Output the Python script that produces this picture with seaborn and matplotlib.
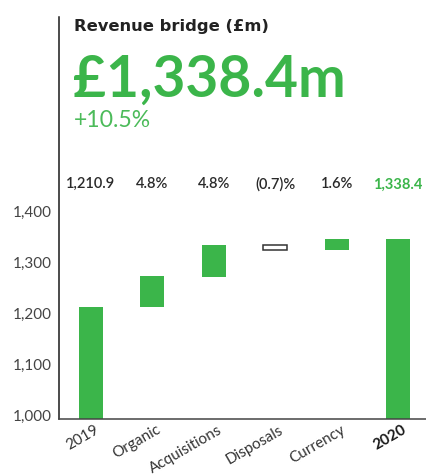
import matplotlib
matplotlib.use("Agg")
import matplotlib.pyplot as plt
import matplotlib.transforms as mtransforms
import seaborn as sns
import pandas as pd

# ---- data ----
categories = ["2019", "Organic", "Acquisitions", "Disposals", "Currency", "2020"]
bar_bottoms = [0, 1212, 1272, 1325, 1325, 0]
bar_tops = [1212, 1273, 1334, 1335, 1346, 1346]
value_labels = ["1,210.9", "4.8%", "4.8%", "(0.7)%", "1.6%", "1,338.4"]
y_ticks = [1000, 1100, 1200, 1300, 1400]
headline = "£1,338.4m"
growth = "+10.5%"
title = "Revenue bridge (£m)"

GREEN = "#3BB54A"
DARK = "#2a2a2a"

sns.set_theme(style="white")
plt.rcParams["font.family"] = ["Lato", "DejaVu Sans"]

df = pd.DataFrame({
    "category": categories,
    "height": [t - b for t, b in zip(bar_tops, bar_bottoms)],
    "bottom": bar_bottoms,
})

fig = plt.figure(figsize=(4.27, 4.75), dpi=100)
ax = fig.add_axes([59.3 / 427, 1 - 418.7 / 475, 1 - 59.3 / 427, (418.7 - 17.3) / 475])

sns.barplot(data=df, x="category", y="height", bottom=df["bottom"].values,
            color=GREEN, saturation=1, width=0.39, ax=ax, linewidth=0)

for patch, cat in zip(ax.patches, categories):
    if cat == "Disposals":
        patch.set_facecolor("white")
        patch.set_edgecolor("#333333")
        patch.set_linewidth(1.1)

ax.set_ylim(992.7, 1782.4)
ax.set_xlim(-0.516, 5.47)
ax.set_yticks(y_ticks)
ax.set_yticklabels([f"{v:,}" for v in y_ticks], fontsize=11, color="#444444")
ax.set_xlabel("")
ax.set_ylabel("")

for s in ["top", "right"]:
    ax.spines[s].set_visible(False)
ax.spines["left"].set_color("#1a1a1a")
ax.spines["left"].set_linewidth(1.1)
ax.spines["bottom"].set_color("#444444")
ax.spines["bottom"].set_linewidth(1.1)
ax.tick_params(axis="both", length=0)
ax.tick_params(axis="y", pad=5.5)
ax.tick_params(axis="x", pad=3)

offset = mtransforms.ScaledTranslation(2.6 / 72, 0, fig.dpi_scale_trans)
for lbl in ax.get_xticklabels():
    lbl.set_rotation(30)
    lbl.set_ha("right")
    lbl.set_rotation_mode("anchor")
    lbl.set_fontsize(11)
    lbl.set_color("#333333")
    lbl.set_transform(lbl.get_transform() + offset)
    if lbl.get_text() == "2020":
        lbl.set_fontweight("bold")
        lbl.set_color("#1a1a1a")

# value labels above bars
trans = mtransforms.blended_transform_factory(ax.transData, fig.transFigure)
for i, txt in enumerate(value_labels):
    last = i == len(value_labels) - 1
    ax.text(i, 1 - 188.3 / 475, txt, transform=trans, ha="center", va="baseline",
            fontsize=10.5, color=GREEN if last else DARK,
            fontweight="bold" if last else "semibold")

# header texts
fig.text(74 / 427, 1 - 30.7 / 475, title, ha="left", va="baseline",
         fontsize=11.8, fontweight="bold", color="#222222",
         family=["DejaVu Sans"])
fig.text(73 / 427, 1 - 96.7 / 475, headline, ha="left", va="baseline",
         fontsize=41, fontweight="bold", color=GREEN)
fig.text(74 / 427, 1 - 126.7 / 475, growth, ha="left", va="baseline",
         fontsize=16.6, fontweight="normal", color="#4CBB5A")

fig.savefig("out.png", dpi=100)
